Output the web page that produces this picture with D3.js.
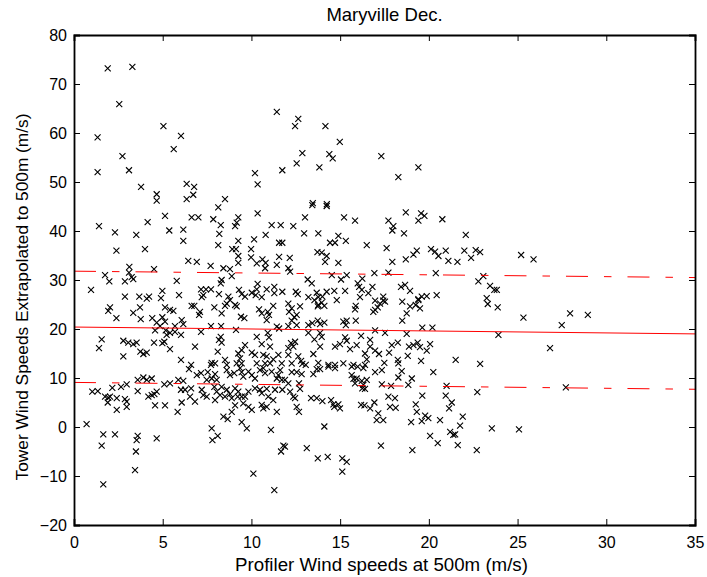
<!DOCTYPE html>
<html>
<head>
<meta charset="utf-8">
<script src="https://cdn.jsdelivr.net/npm/d3@7"></script>
<style>
  html, body { margin: 0; padding: 0; background: #fff; }
  svg { display: block; font-family: "Liberation Sans", Arial, Helvetica, sans-serif; }
</style>
</head>
<body>
<svg id="chart" width="707" height="577"></svg>
<script>
// Profiler wind speed (x) vs. tower wind speed extrapolated to 500 m (y), m/s
const observations = [
  [1.90,73.2],[3.29,73.5],[2.55,65.9],[11.43,64.3],[5.04,61.4],[1.33,59.1],[6.03,59.4],[5.62,56.7],[2.73,55.3],[1.33,52.0],
  [3.10,52.4],[10.2,51.8],[11.74,52.4],[3.78,49.0],[10.35,49.5],[4.66,47.5],[4.66,46.2],[6.35,49.6],[6.77,49.0],[6.35,46.5],
  [6.72,47.4],[8.51,46.5],[12.64,62.9],[12.46,61.4],[14.17,61.4],[14.98,58.2],[12.87,55.9],[14.39,55.7],[14.58,54.8],[12.55,53.8],
  [13.83,53.0],[17.32,55.3],[19.41,53.0],[18.28,51.0],[13.46,45.7],[14.25,45.5],
  [8.13,44.8],[5.13,43.1],[6.63,42.8],[7.01,42.8],[7.85,42.4],[8.27,41.2],[9.26,42.8],[9.17,41.7],[9.08,41.0],[10.35,43.6],
  [4.15,41.8],[1.41,41.0],[11.14,41.2],[11.65,41.2],[2.31,39.7],[3.51,39.2],[5.37,40.1],[6.16,40.3],[8.19,39.4],[6.16,38.0],
  [9.26,38.0],[10.15,38.3],[10.80,39.2],[11.56,37.6],[11.74,37.6],[2.39,36.0],[4.00,36.3],[8.13,37.1],[8.92,36.3],[9.13,36.3],
  [9.98,36.3],[9.26,34.9],[9.98,34.6],[10.62,34.2],[10.80,33.5],[11.56,34.7],[6.44,33.9],[6.92,33.7],[9.26,33.5],[10.30,33.4],
  [3.12,32.7],[7.70,32.9],[8.42,32.4],[8.79,32.2],[10.77,32.4],[11.43,33.1],[4.51,32.2],[3.10,31.5],[3.25,30.6],[3.34,30.2],
  [1.75,31.0],[1.99,29.7],[2.87,29.7],[5.79,29.8],[8.89,30.8],[8.32,30.0],[8.27,29.3],[0.96,28.0],[4.98,27.8],[5.92,26.9],
  [7.16,28.1],[7.44,28.1],[7.72,28.1],[7.29,26.9],[7.20,26.5],[8.17,27.1],[9.30,28.0],[9.45,27.1],[9.64,26.6],[10.02,27.4],
  [10.30,28.1],[10.24,26.9],[10.58,26.5],[10.35,29.2],[10.86,28.1],[11.29,28.6],[11.29,27.3],[11.74,27.6],[2.87,26.6],[3.68,26.6],
  [4.10,26.2],[4.23,26.6],[4.90,26.3],[8.70,26.6],[8.79,25.9],[2.03,24.4],[1.93,23.7],[3.72,24.4],[3.34,23.3],[5.13,24.4],
  [5.41,23.9],[5.60,23.7],[6.63,24.7],[6.78,24.7],[7.10,23.5],[7.05,22.9],[7.91,24.4],[8.51,24.7],[8.61,25.2],[9.08,24.9],
  [9.17,24.6],[8.32,23.2],[9.41,22.5],[9.60,22.2],[10.43,24.0],[10.58,23.2],[10.92,23.5],[10.99,22.9],[11.23,24.7],[10.86,21.8],
  [2.39,22.2],[3.76,22.0],[4.41,22.2],[4.66,21.3],[4.98,22.4],[5.13,21.5],[6.07,21.8],[4.85,20.6],[5.69,20.6],[6.16,21.0],
  [7.16,19.4],[7.72,20.6],[8.29,20.6],[9.13,19.8],[11.43,20.5],[4.57,19.7],[5.17,19.7],[5.41,19.2],[5.69,19.4],[6.03,18.8],
  [5.22,18.8],[11.56,20.1],[1.56,17.9],[1.41,16.1],[2.78,17.6],[3.06,17.2],[3.34,16.9],[3.53,17.2],[3.74,15.4],[3.91,14.9],
  [4.10,15.2],[4.51,17.2],[4.98,17.1],[5.09,17.4],[5.41,15.9],[2.78,14.4],[6.03,13.7],[6.60,12.7],[6.82,16.4],[8.27,18.4],
  [8.17,17.8],[8.32,17.2],[8.10,15.4],[7.76,13.1],[7.72,12.7],[7.95,13.0],[8.51,13.7],[8.61,12.7],[9.64,16.7],[9.45,15.7],
  [9.26,15.0],[9.36,14.0],[9.45,13.0],[9.17,13.0],[10.02,15.2],[10.20,14.7],[10.30,13.0],[10.30,18.4],[10.58,16.9],[10.92,19.2],
  [10.99,18.3],[11.05,16.4],[10.67,14.7],[10.86,14.4],[10.77,13.0],[11.05,13.0],[11.23,13.8],[11.52,14.7],[11.71,13.0],
  [13.43,45.3],[14.24,45.1],[13.02,42.8],[15.22,42.8],[15.84,42.1],[12.36,41.0],[17.72,42.1],[18.70,43.8],[19.56,43.6],[19.75,43.1],
  [19.41,42.1],[20.76,42.4],[12.97,39.5],[13.77,39.5],[18.0,41.0],[17.94,40.1],[18.60,39.5],[14.43,37.6],[14.71,37.6],[14.90,39.0],
  [15.32,38.0],[16.50,37.1],[17.62,36.5],[22.08,39.2],[13.72,35.7],[13.96,35.6],[14.24,34.9],[14.15,33.7],[14.90,33.5],[12.16,34.5],
  [17.94,33.7],[18.70,34.2],[19.13,35.2],[19.32,36.0],[20.12,36.3],[20.35,35.8],[20.54,34.9],[20.95,36.0],[21.1,33.9],[21.61,33.7],
  [22.0,36.0],[22.38,34.5],[22.64,36.1],[22.89,35.7],[12.08,32.4],[12.18,31.7],[14.53,31.0],[15.05,30.1],[15.37,31.0],[16.25,30.3],
  [16.93,31.4],[17.72,31.5],[20.39,31.4],[13.17,30.1],[13.40,29.3],[23.07,30.8],[22.79,29.7],[23.45,28.8],[23.69,28.0],[12.50,27.6],
  [12.61,27.1],[13.68,27.4],[13.77,26.5],[14.24,27.6],[14.67,27.8],[15.28,27.8],[15.99,29.3],[16.07,28.6],[16.22,28.0],[16.59,27.3],
  [16.82,28.6],[18.43,28.6],[18.66,29.0],[18.94,27.8],[13.21,26.5],[13.55,25.9],[14.0,26.6],[14.81,25.9],[16.12,26.5],[16.97,25.8],
  [17.43,26.6],[17.53,25.6],[19.41,25.9],[19.60,26.6],[19.88,26.7],[20.44,26.9],[23.26,26.3],[23.32,25.1],[12.08,25.2],[12.27,24.2],
  [12.12,23.5],[12.55,22.9],[12.74,24.6],[12.42,22.4],[13.77,24.9],[13.74,24.6],[13.96,25.4],[14.11,24.7],[15.88,24.7],[15.84,24.0],
  [16.97,23.9],[17.12,24.4],[17.25,25.2],[17.43,25.8],[16.87,23.5],[18.50,25.6],[18.94,24.6],[18.75,23.2],[19.26,24.9],[19.41,26.1],
  [19.50,24.2],[12.27,21.7],[12.55,20.8],[12.08,20.6],[13.21,20.8],[13.43,21.2],[13.74,21.7],[13.87,21.0],[14.11,21.3],[15.18,21.5],
  [15.37,21.7],[15.32,20.8],[15.88,21.7],[18.50,21.7],[16.97,19.7],[17.53,19.2],[18.75,19.0],[19.63,20.3],[20.20,20.3],[13.21,19.2],
  [13.87,19.2],[13.96,18.4],[12.23,17.1],[12.46,17.4],[12.36,16.4],[12.08,16.1],[13.55,17.9],[13.87,16.4],[14.71,16.4],[14.99,16.9],
  [15.28,18.3],[15.37,17.6],[15.56,15.9],[16.18,18.6],[15.93,16.7],[16.69,17.8],[16.69,16.4],[16.40,15.0],[16.97,15.6],[17.19,14.9],
  [17.91,16.7],[18.25,17.2],[17.76,15.2],[18.88,16.4],[19.13,16.7],[19.37,17.2],[19.50,16.3],[18.81,14.5],[20.07,16.9],[19.88,15.6],
  [12.08,14.7],[12.64,14.4],[12.80,13.5],[12.87,12.9],[13.06,12.7],[12.27,13.0],[13.49,14.9],[13.77,13.1],[14.34,12.7],[14.71,12.7],
  [15.18,13.0],[15.75,12.7],[15.99,12.3],[16.40,12.7],[16.50,13.8],[17.49,13.1],[18.25,13.7],[18.28,13.0],[19.56,13.5],[21.51,13.7],
  [22.89,12.9],
  [25.20,35.1],[25.90,34.2],[23.83,28.0],[23.88,24.4],[25.33,22.3],[27.96,23.2],[28.96,22.9],[27.49,20.8],[23.92,18.8],[26.83,16.1],
  [25.08,-0.5],[27.72,8.1],
  [1.03,7.2],[1.34,7.3],[1.75,6.2],[1.90,5.0],[1.93,6.0],[2.03,6.2],[2.16,8.0],[2.41,5.9],[2.41,3.5],[2.65,8.2],
  [2.97,8.7],[2.87,5.7],[2.97,5.2],[2.97,4.1],[3.59,9.6],[3.59,7.3],[3.91,10.1],[4.10,9.6],[4.38,9.9],[4.19,6.2],
  [4.38,6.5],[4.53,6.7],[4.66,7.2],[4.57,4.4],[5.13,4.4],[5.09,8.7],[5.41,8.9],[5.88,9.6],[6.16,9.4],[6.03,7.6],
  [6.26,7.6],[5.84,3.1],[6.07,5.0],[6.54,6.2],[6.60,7.9],[6.82,5.2],[6.48,11.8],[6.92,10.6],[7.16,11.0],[7.54,11.2],
  [7.95,10.8],[8.04,9.6],[7.76,9.9],[7.48,9.6],[7.29,6.5],[7.48,6.2],[7.20,7.6],[7.91,8.2],[8.04,7.2],[7.95,5.5],
  [8.32,8.2],[8.61,7.6],[8.23,6.5],[8.51,6.2],[8.79,6.7],[8.89,5.9],[8.42,2.1],[8.66,1.6],[8.89,3.1],[9.08,4.4],
  [8.61,11.6],[8.79,10.6],[9.03,11.0],[9.36,12.0],[9.45,11.2],[9.54,10.3],[9.08,7.9],[9.26,7.2],[9.23,6.2],[9.45,6.2],
  [9.83,7.2],[9.64,6.2],[9.54,4.8],[9.83,4.1],[10.02,3.5],[9.45,1.0],[9.74,-0.3],[9.83,11.3],[10.02,10.6],[10.20,9.9],
  [10.48,11.6],[10.67,12.0],[10.77,11.0],[11.14,11.3],[10.20,7.9],[10.48,7.6],[10.86,7.8],[10.58,6.9],[10.95,6.2],[11.23,5.5],
  [10.58,4.5],[10.67,3.8],[10.86,4.1],[11.43,3.1],[11.10,-0.6],[11.43,9.9],[11.62,11.6],[11.52,10.6],[11.71,9.6],[11.74,7.6],
  [11.33,7.6],[0.71,0.6],[1.65,-1.5],[2.31,-1.5],[1.56,-3.8],[3.59,-1.8],[3.53,-2.7],[3.49,-5.0],[4.66,-2.3],[3.44,-8.8],
  [1.65,-11.7],[7.76,-0.3],[7.80,-2.7],[8.10,-1.8],[10.11,-9.5],[11.29,-12.9],[11.67,-5.0],[11.80,-3.8],
  [12.27,11.2],[12.55,11.2],[12.83,10.8],[13.49,10.8],[13.68,11.8],[13.87,11.8],[14.34,12.3],[14.71,12.0],[15.65,12.3],[16.31,12.0],
  [16.97,11.2],[17.35,11.6],[18.47,11.4],[19.04,9.9],[18.28,10.1],[20.25,11.2],[11.89,9.6],[12.08,8.9],[12.68,8.9],[12.74,7.8],
  [12.18,7.2],[12.36,6.2],[12.46,5.9],[12.55,4.1],[12.68,3.1],[13.36,5.9],[13.68,5.9],[14.0,5.3],[14.49,5.5],[14.67,4.1],
  [14.90,4.6],[14.99,3.8],[14.62,4.6],[15.65,10.6],[15.75,9.8],[15.93,9.9],[15.84,8.9],[16.22,9.4],[16.31,8.6],[16.40,7.8],
  [16.50,9.6],[16.25,7.9],[14.11,0.1],[16.18,4.5],[16.37,4.4],[16.69,3.8],[16.93,5.0],[17.15,2.8],[17.06,1.4],[17.43,1.4],
  [17.35,8.7],[17.87,8.4],[17.72,6.2],[18.09,5.9],[17.81,4.1],[18.13,3.9],[17.30,-3.8],[18.84,8.6],[19.63,6.4],[19.26,4.6],
  [19.32,3.1],[19.0,1.0],[19.60,1.2],[19.79,2.3],[19.97,1.8],[20.63,1.4],[20.07,-1.8],[20.50,-3.3],[19.07,-4.7],[21.0,8.4],
  [20.95,6.4],[21.29,5.0],[21.14,3.8],[21.91,2.1],[21.76,0.3],[21.20,-1.0],[21.38,-1.6],[21.48,-1.5],[21.63,-3.7],[22.73,7.1],
  [22.70,-4.7],[23.55,-0.3],[11.89,-4.0],[13.12,-4.3],[13.74,-6.4],[14.30,-6.1],[15.12,-6.4],[15.37,-7.1],[15.12,-9.1]
];

// Fitted trend (solid) and its upper/lower bounds (dash-dot), given at the x-axis ends
const fitEndsX = [0, 35];
const fitCentre = [20.4, 19.0];
const fitUpper = [31.8, 30.5];
const fitLower = [9.1, 7.7];

const xTicks = [0, 5, 10, 15, 20, 25, 30, 35];
const yTicks = [-20, -10, 0, 10, 20, 30, 40, 50, 60, 70, 80];

const titleText = "Maryville Dec.";
const xLabelText = "Profiler Wind speeds at 500m (m/s)";
const yLabelText = "Tower Wind Speeds Extrapolated to 500m (m/s)";

const svg = d3.select("#chart");
const box = { left: 74, right: 695, top: 35, bottom: 525 };

const x = d3.scaleLinear().domain([0, 35]).range([box.left, box.right]);
const y = d3.scaleLinear().domain([-20, 80]).range([box.bottom, box.top]);

// data markers ('x' symbols)
const r = 3;
svg.append("g")
  .selectAll("path")
  .data(observations)
  .join("path")
  .attr("transform", d => `translate(${x(d[0])},${y(d[1])})`)
  .attr("d", `M${-r},${-r}L${r},${r}M${-r},${r}L${r},${-r}`)
  .attr("stroke", "#000")
  .attr("stroke-width", 1.1)
  .attr("fill", "none");

// trend lines
const line = d3.line().x(d => x(d[0])).y(d => y(d[1]));
const toPts = vals => fitEndsX.map((xv, i) => [xv, vals[i]]);
const lines = svg.append("g").attr("fill", "none").attr("stroke", "#ff0000").attr("stroke-width", 1);
lines.append("path").attr("d", line(toPts(fitCentre)));
lines.append("path").attr("d", line(toPts(fitUpper))).attr("stroke-dasharray", "22,16,7.5,16");
lines.append("path").attr("d", line(toPts(fitLower))).attr("stroke-dasharray", "22,16,7.5,16");

// axes: ticks point inward, box on all four sides
const tickLen = 6;
const axisG = svg.append("g");
const xBottom = d3.axisBottom(x).tickValues(xTicks).tickSize(-tickLen).tickPadding(12).tickFormat(d3.format("d"));
const xTop = d3.axisTop(x).tickValues(xTicks).tickSize(-tickLen).tickFormat("");
const yLeft = d3.axisLeft(y).tickValues(yTicks).tickSize(-tickLen).tickPadding(7).tickFormat(d3.format("d"));
const yRight = d3.axisRight(y).tickValues(yTicks).tickSize(-tickLen).tickFormat("");

axisG.append("g").attr("transform", `translate(0,${box.bottom})`).call(xBottom);
axisG.append("g").attr("transform", `translate(0,${box.top})`).call(xTop);
axisG.append("g").attr("transform", `translate(${box.left},0)`).call(yLeft);
axisG.append("g").attr("transform", `translate(${box.right},0)`).call(yRight);

axisG.selectAll(".domain").attr("stroke", "#000").attr("stroke-width", 1.8);
axisG.selectAll(".tick line").attr("stroke", "#000").attr("stroke-width", 1);
axisG.selectAll(".tick text")
  .attr("fill", "#000")
  .style("font-size", "16px")
  .style("font-family", "'Liberation Sans', Arial, sans-serif");

// title and axis labels
svg.append("text")
  .attr("x", (box.left + box.right) / 2).attr("y", 21)
  .attr("text-anchor", "middle").style("font-size", "18.5px")
  .text(titleText);

svg.append("text")
  .attr("x", (box.left + box.right) / 2 - 3).attr("y", 571)
  .attr("text-anchor", "middle").style("font-size", "18.7px")
  .text(xLabelText);

svg.append("text")
  .attr("transform", "translate(28,297) rotate(-90)")
  .attr("text-anchor", "middle").style("font-size", "17.3px")
  .text(yLabelText);
</script>
</body>
</html>
